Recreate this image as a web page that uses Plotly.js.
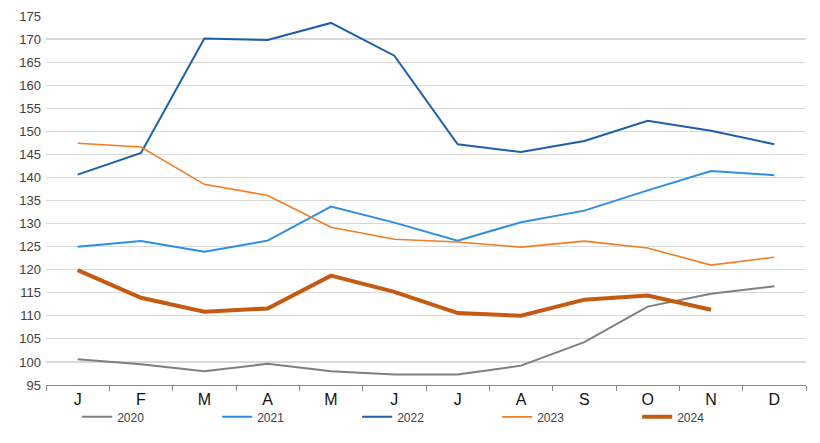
<!DOCTYPE html>
<html><head><meta charset="utf-8">
<script src="https://cdn.plot.ly/plotly-3.0.1.min.js"></script>
<style>html,body{margin:0;padding:0;background:#fff}#c{width:820px;height:443px}</style>
</head><body><div id="c"></div>
<script>
const months = ["J","F","M","A","M","J","J","A","S","O","N","D"];
const y2020 = [100.6, 99.5, 98.0, 99.6, 98.0, 97.3, 97.3, 99.2, 104.3, 112.0, 114.8, 116.4];
const y2021 = [125.0, 126.2, 123.9, 126.3, 133.7, 130.2, 126.3, 130.3, 132.8, 137.2, 141.4, 140.5];
const y2022 = [140.6, 145.3, 170.1, 169.8, 173.5, 166.4, 147.2, 145.5, 147.9, 152.3, 150.1, 147.2];
const y2023 = [147.4, 146.6, 138.5, 136.1, 129.2, 126.6, 126.0, 124.9, 126.2, 124.7, 121.0, 122.7];
const y2024 = [119.9, 113.9, 110.9, 111.6, 118.7, 115.2, 110.6, 110.0, 113.5, 114.4, 111.3];
const names = ["2020","2021","2022","2023","2024"];
const colors = ["#7f7f7f","#2e8ee6","#1c5fad","#f57c20","#c55a11"];
const widths = [2,2,2,1.6,4];
const series = [y2020,y2021,y2022,y2023,y2024];
const xs = months.map((m,i)=>i);
const traces = series.map((s,k)=>({
  x: xs.slice(0,s.length), y: s, type:'scatter', mode:'lines', name: names[k],
  line:{color:colors[k], width:widths[k]}
}));
const layout = {
  width:820, height:443,
  margin:{l:46, r:14, t:15.5, b:57.5, autoexpand:false},
  paper_bgcolor:'#fff', plot_bgcolor:'#fff',
  font:{family:'Liberation Sans, Arial, sans-serif', color:'#404040'},
  showlegend:true,
  legend:{orientation:'h', x:0.041, y:-0.047, xanchor:'left', yanchor:'top',
    entrywidth:95, entrywidthmode:'pixels', font:{size:12, color:'#404040'}, itemwidth:30,
    bgcolor:'rgba(0,0,0,0)', borderwidth:0},
  xaxis:{range:[-0.5,11.5], tickmode:'array', tickvals:xs, ticktext:months,
    showgrid:false, zeroline:false, showline:true, linecolor:'#888', linewidth:1.2,
    ticks:'', tickfont:{size:16, color:'#111'},
    minor:{tickmode:'linear', tick0:-0.5, dtick:1, ticks:'outside', ticklen:5, tickcolor:'#888', showgrid:false}},
  yaxis:{range:[95,175], tickmode:'linear', tick0:95, dtick:5, showgrid:true,
    gridcolor:'#d9d9d9', gridwidth:1.2, zeroline:false, showline:false, ticks:'',
    tickfont:{size:13, color:'#404040'}, ticklabelstandoff:4}
};
Plotly.newPlot('c', traces, layout, {displayModeBar:false, staticPlot:true});
</script></body></html>
